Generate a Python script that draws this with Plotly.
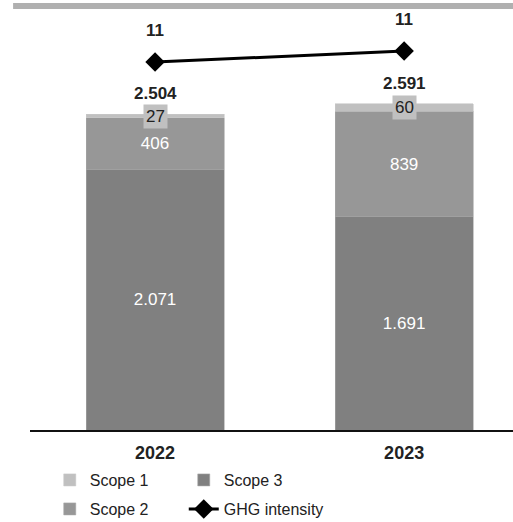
import plotly.graph_objects as go

# Emissions by year (tCO2e) and GHG intensity
years = ["2022", "2023"]
scope1 = [27, 60]
scope2 = [406, 839]
scope3 = [2071, 1691]
totals = [2504, 2591]
intensity = [10.7, 11.3]

FONT = "Liberation Sans, Arial, sans-serif"
C1, C2, C3 = "#c0c0c0", "#979797", "#808080"


def fmt(v):
    return f"{v:,.0f}".replace(",", ".")


fig = go.Figure()

fig.add_trace(go.Bar(
    x=years, y=scope3, name="Scope 3", marker=dict(color=C3, line=dict(color="#a6a6a6", width=0.6)),
    text=[fmt(v) for v in scope3], textposition="inside", insidetextanchor="middle",
    textfont=dict(color="white", size=17, family=FONT), legend="legend", legendrank=2,
    legendwidth=120,
))
fig.add_trace(go.Bar(
    x=years, y=scope2, name="Scope 2", marker=dict(color=C2, line=dict(color="#a6a6a6", width=0.6)),
    text=[fmt(v) for v in scope2], textposition="inside", insidetextanchor="middle",
    textfont=dict(color="white", size=17, family=FONT), legend="legend2", legendrank=1,
))
fig.add_trace(go.Bar(
    x=years, y=scope1, name="Scope 1", marker=dict(color=C1, line=dict(color="#c8c8c8", width=0.6)),
    legend="legend", legendrank=1,
))
fig.add_trace(go.Scatter(
    x=years, y=intensity, name="GHG intensity", yaxis="y2", mode="lines+markers",
    line=dict(color="black", width=3), marker=dict(symbol="diamond", size=15, color="black"),
    legend="legend2", legendrank=2, legendwidth=140,
))

# category positions on the x axis are 0, 1, ...
annotations = []
for i in range(len(years)):
    # Scope 1 label on a grey box, centred on its thin segment
    annotations.append(dict(
        x=i, y=scope3[i] + scope2[i] + scope1[i] / 2, xref="x", yref="y", text=fmt(scope1[i]),
        showarrow=False, bgcolor=C1, borderpad=2,
        font=dict(size=17, color="#222222", family=FONT),
    ))
    # total above the stack
    annotations.append(dict(
        x=i, y=totals[i], xref="x", yref="y", text=f"<b>{fmt(totals[i])}</b>",
        showarrow=False, yanchor="bottom", yshift=9,
        font=dict(size=17, color="#222222", family=FONT),
    ))
    # intensity value above the marker
    annotations.append(dict(
        x=i, y=intensity[i], xref="x", yref="y2", text=f"<b>{intensity[i]:.0f}</b>",
        showarrow=False, yshift=32,
        font=dict(size=17, color="#222222", family=FONT),
    ))

hidden_axis = dict(showticklabels=False, showline=False, showgrid=False, zeroline=False, ticks="")
legend_common = dict(orientation="h", xref="container", yref="container", xanchor="left",
                     yanchor="middle", entrywidth=89, entrywidthmode="pixels", traceorder="normal",
                     font=dict(size=16, family=FONT, color="#222222"), bgcolor="rgba(0,0,0,0)")

fig.update_layout(
    width=513, height=522,
    margin=dict(l=30, r=0, t=10, b=92),
    paper_bgcolor="white", plot_bgcolor="white",
    barmode="stack", bargap=0.446,
    separators=",.",
    font=dict(family=FONT, size=16, color="#222222"),
    xaxis=dict(
        type="category", range=[-0.502, 1.437], showline=True, linecolor="#111111", linewidth=1.6,
        ticks="", showgrid=False, zeroline=False, ticklabelstandoff=6,
        tickfont=dict(size=18, family=FONT, color="#222222", weight="bold"),
    ),
    yaxis=dict(range=[0, 3333], **hidden_axis),
    yaxis2=dict(range=[-9.37, 13.54], overlaying="y", **hidden_axis),
    annotations=annotations,
    shapes=[dict(type="rect", xref="paper", yref="paper", x0=-0.035, x1=1.0,
                 y0=1.0024, y1=1.0167, fillcolor="#b0b0b0", line=dict(width=0), layer="above")],
    legend=dict(x=0.097, y=1 - 480 / 522, **legend_common),
    legend2=dict(x=0.097, y=1 - 509 / 522, **legend_common),
    showlegend=True,
)

fig.write_html("out.html")
